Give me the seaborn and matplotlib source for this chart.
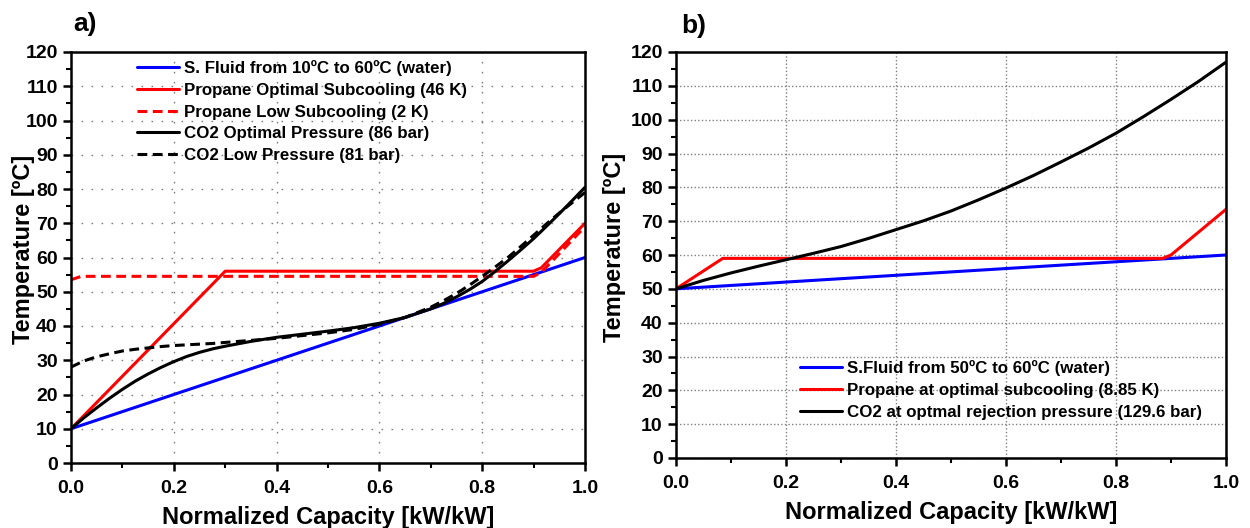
import numpy as np
import pandas as pd
import matplotlib
matplotlib.use("Agg")
import matplotlib.pyplot as plt
from matplotlib.ticker import MultipleLocator
import seaborn as sns

# ---------------- Data: panel a ----------------
a_water_x = [0.0, 1.0]
a_water_y = [10, 60]
a_prop_opt_x = [0.0, 0.3, 0.9, 0.915, 1.0]
a_prop_opt_y = [10, 56, 56, 57, 70]
a_prop_low_x = [0.0, 0.02, 0.9, 0.915, 0.93, 1.0]
a_prop_low_y = [53.5, 54.5, 54.5, 55.7, 58, 69]
a_co2_x = [0.0, 0.025, 0.05, 0.075, 0.1, 0.125, 0.15, 0.175, 0.2, 0.225, 0.25,
           0.275, 0.3, 0.35, 0.4, 0.45, 0.5, 0.55, 0.6, 0.65, 0.7, 0.725, 0.75,
           0.775, 0.8, 0.825, 0.85, 0.875, 0.9, 0.925, 0.95, 0.975, 1.0]
a_co2_opt_y = [10, 13.2, 16.1, 18.9, 21.5, 23.9, 26.0, 27.9, 29.6, 31.1, 32.3,
               33.3, 34.1, 35.5, 36.7, 37.6, 38.5, 39.5, 40.8, 42.5, 45.0, 46.6,
               48.5, 50.6, 53.0, 55.9, 59.0, 62.2, 65.5, 69.1, 72.8, 76.6, 80.5]
a_co2_low_y = [28, 29.8, 31.0, 31.9, 32.7, 33.2, 33.6, 34.0, 34.3, 34.5, 34.7,
               34.9, 35.2, 35.8, 36.4, 37.2, 38.0, 39.0, 40.5, 42.5, 45.5, 47.4,
               49.5, 51.9, 54.5, 57.2, 60.0, 63.2, 66.5, 69.8, 73.0, 76.0, 79.0]

a_labels = ["S. Fluid from 10ºC to 60ºC (water)",
            "Propane Optimal Subcooling (46 K)",
            "Propane Low Subcooling (2 K)",
            "CO2 Optimal Pressure (86 bar)",
            "CO2 Low Pressure (81 bar)"]

# ---------------- Data: panel b ----------------
b_water_x = [0.0, 1.0]
b_water_y = [50, 60]
b_prop_x = [0.0, 0.085, 0.885, 0.9, 1.0]
b_prop_y = [50, 59, 59, 60, 73.5]
b_co2_x = [0.0, 0.05, 0.1, 0.15, 0.2, 0.25, 0.3, 0.35, 0.4, 0.45, 0.5, 0.55,
           0.6, 0.65, 0.7, 0.75, 0.8, 0.85, 0.9, 0.95, 1.0]
b_co2_y = [50, 52.5, 54.7, 56.7, 58.6, 60.5, 62.5, 64.9, 67.5, 70.1, 73.0, 76.3,
           79.8, 83.5, 87.5, 91.6, 96.0, 100.9, 106.0, 111.3, 117.0]

b_labels = ["S.Fluid from 50ºC to 60ºC (water)",
            "Propane at optimal subcooling (8.85 K)",
            "CO2 at optmal rejection pressure (129.6 bar)"]

# ---------------- Style ----------------
sns.set_style("ticks")
plt.rcParams['font.family'] = ['Liberation Sans', 'DejaVu Sans']
plt.rcParams['font.weight'] = 'bold'
plt.rcParams['axes.labelweight'] = 'bold'
plt.rcParams['text.color'] = 'black'
plt.rcParams['axes.labelcolor'] = 'black'
plt.rcParams['xtick.color'] = 'black'
plt.rcParams['ytick.color'] = 'black'

W, H = 1250, 528
fig = plt.figure(figsize=(12.5, 5.28), dpi=100)
ax_a = fig.add_axes([71 / W, 1 - 463 / H, (585 - 71) / W, (463 - 52) / H])
ax_b = fig.add_axes([676 / W, 1 - 458 / H, (1226 - 676) / W, (458 - 52) / H])


def draw(ax, x, y, label, color, ls):
    df = pd.DataFrame({"x": x, "y": y})
    sns.lineplot(data=df, x="x", y="y", ax=ax, color=color, linestyle=ls,
                 linewidth=2.2, label=label, sort=False, estimator=None)


dash = (0, (3.2, 1.8))
draw(ax_a, a_water_x, a_water_y, a_labels[0], "#0000ff", "-")
draw(ax_a, a_prop_opt_x, a_prop_opt_y, a_labels[1], "#ff0000", "-")
draw(ax_a, a_prop_low_x, a_prop_low_y, a_labels[2], "#ff0000", dash)
draw(ax_a, a_co2_x, a_co2_opt_y, a_labels[3], "black", "-")
draw(ax_a, a_co2_x, a_co2_low_y, a_labels[4], "black", dash)

draw(ax_b, b_water_x, b_water_y, b_labels[0], "#0000ff", "-")
draw(ax_b, b_prop_x, b_prop_y, b_labels[1], "#ff0000", "-")
draw(ax_b, b_co2_x, b_co2_y, b_labels[2], "black", "-")

for ax, gls, ylx in ((ax_a, (0, (1.2, 6)), -0.07), (ax_b, (0, (1, 1.6)), -0.09)):
    ax.set_xlim(0, 1)
    ax.set_ylim(0, 120)
    ax.xaxis.set_major_locator(MultipleLocator(0.2))
    ax.xaxis.set_minor_locator(MultipleLocator(0.1))
    ax.yaxis.set_major_locator(MultipleLocator(10))
    ax.yaxis.set_minor_locator(MultipleLocator(5))
    ax.set_xticks(np.arange(0, 1.01, 0.2))
    ax.set_xticklabels([f"{v:.1f}" for v in np.arange(0, 1.01, 0.2)])
    ax.grid(True, which='major', color='#808080', linestyle=gls, linewidth=1.0)
    for s in ax.spines.values():
        s.set_visible(True)
        s.set_linewidth(1.8)
        s.set_color('black')
    ax.tick_params(which='major', direction='out', length=5.5, width=1.8,
                   labelsize=14, colors='black')
    ax.tick_params(axis='x', which='major', pad=7)
    ax.tick_params(axis='y', which='major', pad=4)
    ax.tick_params(which='minor', direction='out', length=3.5, width=1.5, colors='black')
    for lab in ax.get_xticklabels() + ax.get_yticklabels():
        lab.set_fontweight('bold')
        lab.set_color('black')
    ax.set_xlabel("Normalized Capacity [kW/kW]", fontsize=17, fontweight='bold',
                  labelpad=6, color='black')
    ax.set_ylabel("Temperature [ºC]", fontsize=17, fontweight='bold', color='black')
    ax.yaxis.set_label_coords(ylx, 0.52)

leg_kw = dict(frameon=False, fontsize=12.2, handlelength=2.5, handletextpad=0.25,
              labelspacing=0.4, borderpad=0.0, borderaxespad=0.0, labelcolor='black')
ax_a.legend(loc='upper left', bbox_to_anchor=(137 / W, 1 - 60 / H),
            bbox_transform=fig.transFigure, **leg_kw)
ax_b.legend(loc='upper left', bbox_to_anchor=(800 / W, 1 - 360 / H),
            bbox_transform=fig.transFigure, **leg_kw)

fig.text(73 / W, 1 - 12 / H, "a)", fontsize=19, fontweight='bold', va='top', color='black')
fig.text(681 / W, 1 - 14 / H, "b)", fontsize=19, fontweight='bold', va='top', color='black')

fig.savefig("out.png", dpi=100)
